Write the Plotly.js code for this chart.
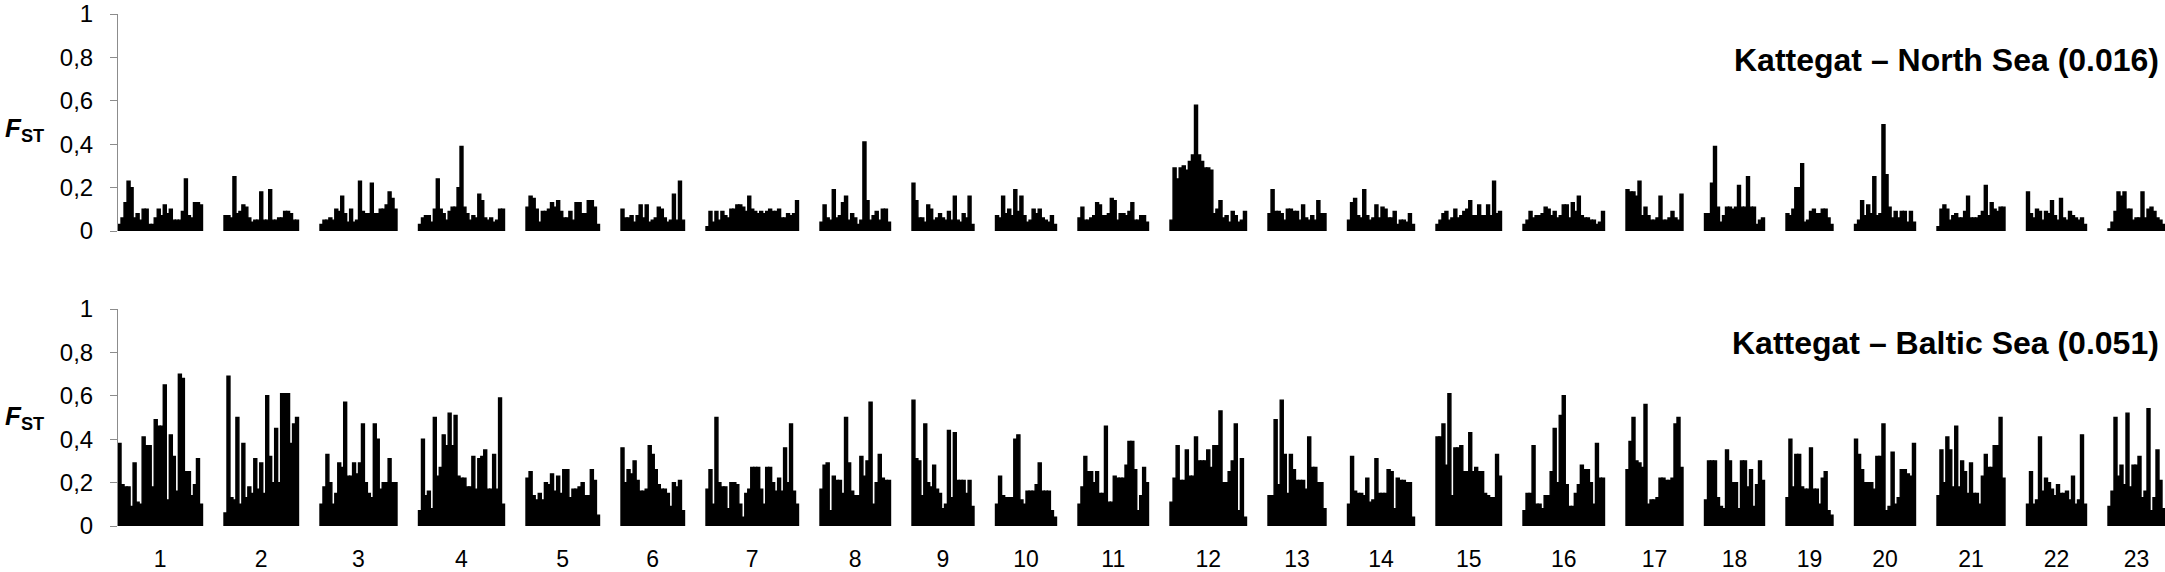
<!DOCTYPE html>
<html>
<head>
<meta charset="utf-8">
<script src="https://cdn.plot.ly/plotly-3.0.1.min.js"></script>
<style>
  html, body { margin: 0; padding: 0; background: #fff; }
  #chart { width: 2165px; height: 572px; }
</style>
</head>
<body>
<div id="chart"></div>
<script>
// Chromosome labels and relative lengths (arbitrary units)
const chrLabels = ["1","2","3","4","5","6","7","8","9","10","11","12","13","14","15","16","17","18","19","20","21","22","23"];
const chrLength = [84.5, 74.5, 77, 86, 73.5, 63.5, 92.5, 70.5, 62, 61, 70.5, 76.5, 58, 67, 65.5, 81.5, 57, 60, 47, 61, 68, 60, 57];

// Kattegat – North Sea FST per window, one array per chromosome
const ns1 = [0.03,0.06,0.13,0.23,0.2,0.06,0.08,0.05,0.1,0.1,0.03,0.03,0.06,0.1,0.07,0.12,0.08,0.1,0.05,0.05,0.05,0.09,0.24,0.07,0.06,0.13,0.13,0.12];
const ns2 = [0.07,0.07,0.06,0.25,0.08,0.09,0.12,0.11,0.06,0.04,0.05,0.05,0.18,0.05,0.05,0.19,0.05,0.05,0.06,0.06,0.09,0.09,0.08,0.05,0.05];
const ns3 = [0.03,0.05,0.05,0.06,0.05,0.1,0.09,0.16,0.08,0.04,0.1,0.04,0.05,0.23,0.09,0.08,0.08,0.22,0.08,0.08,0.1,0.1,0.12,0.18,0.15,0.1];
const ns4 = [0.03,0.06,0.07,0.07,0.04,0.1,0.24,0.1,0.08,0.05,0.09,0.11,0.11,0.2,0.39,0.11,0.08,0.05,0.07,0.06,0.17,0.14,0.06,0.05,0.06,0.04,0.05,0.1,0.1];
const ns5 = [0.11,0.16,0.15,0.1,0.04,0.09,0.09,0.1,0.13,0.11,0.14,0.09,0.06,0.06,0.09,0.05,0.13,0.13,0.08,0.08,0.14,0.14,0.11,0.03];
const ns6 = [0.1,0.06,0.06,0.07,0.04,0.07,0.12,0.06,0.12,0.04,0.05,0.06,0.11,0.1,0.06,0.04,0.05,0.17,0.05,0.23,0.05];
const ns7 = [0.02,0.09,0.04,0.09,0.05,0.09,0.07,0.06,0.1,0.1,0.12,0.12,0.11,0.09,0.16,0.1,0.09,0.08,0.09,0.08,0.09,0.1,0.09,0.09,0.1,0.06,0.06,0.08,0.07,0.08,0.14];
const ns8 = [0.04,0.12,0.06,0.05,0.19,0.06,0.07,0.13,0.16,0.05,0.08,0.06,0.03,0.05,0.41,0.14,0.05,0.07,0.09,0.05,0.1,0.1,0.04];
const ns9 = [0.22,0.14,0.06,0.06,0.04,0.12,0.1,0.05,0.06,0.08,0.06,0.05,0.09,0.05,0.16,0.05,0.04,0.08,0.06,0.16,0.03];
const ns10 = [0.07,0.06,0.16,0.08,0.1,0.07,0.19,0.09,0.16,0.07,0.04,0.05,0.1,0.08,0.1,0.06,0.05,0.04,0.07,0.03];
const ns11 = [0.06,0.11,0.05,0.05,0.06,0.07,0.13,0.12,0.07,0.07,0.08,0.15,0.14,0.05,0.08,0.08,0.07,0.09,0.13,0.05,0.05,0.07,0.07,0.04];
const ns12 = [0.05,0.29,0.24,0.29,0.3,0.28,0.32,0.35,0.58,0.35,0.32,0.29,0.29,0.28,0.08,0.1,0.14,0.06,0.07,0.04,0.09,0.07,0.04,0.05,0.09];
const ns13 = [0.08,0.19,0.09,0.09,0.08,0.05,0.1,0.1,0.09,0.09,0.05,0.12,0.06,0.05,0.07,0.05,0.14,0.08,0.08];
const ns14 = [0.05,0.13,0.15,0.07,0.06,0.19,0.07,0.05,0.06,0.12,0.06,0.11,0.1,0.06,0.06,0.09,0.03,0.05,0.05,0.04,0.08,0.03];
const ns15 = [0.03,0.05,0.08,0.09,0.05,0.06,0.1,0.06,0.07,0.09,0.1,0.14,0.07,0.07,0.12,0.07,0.07,0.12,0.07,0.23,0.08,0.09];
const ns16 = [0.03,0.05,0.09,0.06,0.07,0.07,0.08,0.11,0.1,0.07,0.09,0.06,0.07,0.12,0.12,0.06,0.13,0.09,0.16,0.07,0.06,0.06,0.05,0.05,0.03,0.04,0.09];
const ns17 = [0.19,0.18,0.18,0.16,0.23,0.07,0.11,0.07,0.05,0.05,0.06,0.16,0.05,0.05,0.06,0.09,0.06,0.05,0.17];
const ns18 = [0.08,0.08,0.22,0.39,0.11,0.04,0.07,0.11,0.11,0.1,0.11,0.21,0.11,0.11,0.25,0.11,0.11,0.03,0.05,0.06];
const ns19 = [0.08,0.07,0.1,0.2,0.2,0.31,0.04,0.05,0.09,0.1,0.08,0.08,0.1,0.1,0.06,0.03];
const ns20 = [0.03,0.05,0.14,0.07,0.12,0.08,0.25,0.07,0.08,0.49,0.26,0.11,0.06,0.09,0.06,0.09,0.09,0.04,0.09,0.04];
const ns21 = [0.02,0.1,0.12,0.1,0.05,0.07,0.08,0.06,0.06,0.09,0.16,0.06,0.06,0.06,0.07,0.09,0.21,0.07,0.13,0.1,0.09,0.11,0.11];
const ns22 = [0.18,0.08,0.06,0.1,0.09,0.05,0.09,0.08,0.14,0.07,0.05,0.15,0.06,0.05,0.09,0.07,0.06,0.05,0.06,0.03];
const ns23 = [0.01,0.04,0.09,0.18,0.16,0.18,0.1,0.1,0.05,0.06,0.06,0.18,0.06,0.1,0.11,0.09,0.06,0.05,0.03];

// Kattegat – Baltic Sea FST per window, one array per chromosome
const bs1 = [0.38,0.19,0.18,0.18,0.09,0.29,0.11,0.1,0.41,0.37,0.37,0.18,0.49,0.46,0.46,0.65,0.12,0.42,0.32,0.16,0.7,0.68,0.25,0.25,0.14,0.19,0.31,0.1];
const bs2 = [0.06,0.69,0.13,0.12,0.5,0.1,0.38,0.13,0.18,0.15,0.31,0.17,0.29,0.15,0.6,0.32,0.2,0.45,0.2,0.61,0.61,0.61,0.38,0.47,0.5];
const bs3 = [0.1,0.18,0.33,0.2,0.1,0.15,0.29,0.27,0.57,0.23,0.23,0.29,0.24,0.29,0.47,0.2,0.15,0.13,0.47,0.4,0.17,0.2,0.2,0.31,0.2,0.2];
const bs4 = [0.07,0.4,0.14,0.16,0.08,0.5,0.23,0.27,0.42,0.37,0.52,0.37,0.51,0.23,0.22,0.22,0.18,0.18,0.32,0.17,0.31,0.32,0.35,0.17,0.17,0.33,0.17,0.59,0.1];
const bs5 = [0.22,0.25,0.14,0.12,0.15,0.12,0.2,0.19,0.24,0.16,0.23,0.15,0.26,0.26,0.13,0.17,0.17,0.18,0.2,0.14,0.14,0.26,0.21,0.05];
const bs6 = [0.36,0.2,0.26,0.24,0.3,0.21,0.16,0.16,0.17,0.37,0.33,0.26,0.19,0.17,0.17,0.15,0.09,0.2,0.18,0.21,0.07];
const bs7 = [0.17,0.26,0.1,0.5,0.2,0.18,0.18,0.08,0.2,0.2,0.19,0.1,0.04,0.15,0.17,0.27,0.27,0.27,0.17,0.1,0.27,0.27,0.2,0.16,0.22,0.16,0.36,0.2,0.47,0.16,0.1];
const bs8 = [0.17,0.28,0.29,0.07,0.23,0.21,0.21,0.15,0.5,0.29,0.16,0.14,0.14,0.32,0.23,0.3,0.57,0.1,0.2,0.33,0.22,0.21,0.21];
const bs9 = [0.58,0.31,0.3,0.14,0.47,0.2,0.18,0.28,0.17,0.15,0.08,0.1,0.44,0.13,0.43,0.21,0.21,0.21,0.15,0.21,0.09];
const bs10 = [0.1,0.23,0.14,0.13,0.13,0.13,0.4,0.42,0.12,0.1,0.16,0.16,0.16,0.19,0.29,0.16,0.16,0.16,0.07,0.04];
const bs11 = [0.1,0.18,0.32,0.25,0.25,0.2,0.25,0.15,0.15,0.46,0.11,0.11,0.23,0.22,0.22,0.22,0.28,0.39,0.39,0.26,0.07,0.14,0.27,0.2];
const bs12 = [0.11,0.22,0.37,0.21,0.21,0.35,0.23,0.23,0.41,0.3,0.3,0.3,0.35,0.27,0.37,0.37,0.53,0.2,0.2,0.25,0.3,0.47,0.07,0.31,0.04];
const bs13 = [0.14,0.14,0.49,0.19,0.58,0.33,0.15,0.33,0.26,0.21,0.21,0.21,0.17,0.41,0.27,0.27,0.2,0.2,0.08];
const bs14 = [0.1,0.32,0.16,0.15,0.15,0.14,0.22,0.11,0.12,0.31,0.15,0.15,0.15,0.26,0.25,0.08,0.22,0.21,0.21,0.2,0.2,0.04];
const bs15 = [0.41,0.41,0.47,0.28,0.61,0.14,0.36,0.36,0.37,0.25,0.25,0.43,0.25,0.27,0.25,0.25,0.15,0.14,0.13,0.13,0.33,0.23];
const bs16 = [0.07,0.15,0.15,0.37,0.1,0.1,0.08,0.14,0.14,0.25,0.45,0.2,0.51,0.6,0.19,0.09,0.09,0.15,0.19,0.28,0.26,0.26,0.2,0.1,0.38,0.22,0.22];
const bs17 = [0.26,0.39,0.5,0.3,0.29,0.27,0.56,0.1,0.12,0.12,0.13,0.22,0.22,0.21,0.21,0.22,0.47,0.5,0.27];
const bs18 = [0.12,0.3,0.3,0.3,0.13,0.09,0.08,0.35,0.3,0.2,0.2,0.08,0.3,0.3,0.18,0.26,0.09,0.19,0.3,0.21];
const bs19 = [0.13,0.4,0.18,0.33,0.33,0.18,0.17,0.17,0.36,0.17,0.17,0.1,0.22,0.25,0.07,0.05];
const bs20 = [0.4,0.33,0.26,0.2,0.2,0.2,0.17,0.32,0.32,0.47,0.07,0.09,0.34,0.1,0.13,0.26,0.26,0.24,0.23,0.38];
const bs21 = [0.14,0.35,0.2,0.41,0.35,0.18,0.46,0.18,0.3,0.25,0.15,0.29,0.15,0.15,0.1,0.23,0.33,0.27,0.27,0.37,0.37,0.5,0.22];
const bs22 = [0.1,0.25,0.1,0.12,0.41,0.16,0.22,0.2,0.17,0.14,0.19,0.15,0.15,0.16,0.12,0.23,0.1,0.12,0.42,0.1];
const bs23 = [0.09,0.16,0.5,0.23,0.28,0.19,0.52,0.18,0.28,0.28,0.32,0.13,0.16,0.54,0.07,0.13,0.35,0.21,0.08];

const northSea = [ns1,ns2,ns3,ns4,ns5,ns6,ns7,ns8,ns9,ns10,ns11,ns12,ns13,ns14,ns15,ns16,ns17,ns18,ns19,ns20,ns21,ns22,ns23];
const baltic = [bs1,bs2,bs3,bs4,bs5,bs6,bs7,bs8,bs9,bs10,bs11,bs12,bs13,bs14,bs15,bs16,bs17,bs18,bs19,bs20,bs21,bs22,bs23];

const GAP = 21.5;
const chrStart = [];
const chrCenter = [];
(function () {
  let s = 0;
  for (let i = 0; i < chrLength.length; i++) {
    chrStart.push(s);
    chrCenter.push(s + chrLength[i] / 2);
    s += chrLength[i] + GAP;
  }
})();
const totalLen = chrStart[chrStart.length - 1] + chrLength[chrLength.length - 1];

function build(series) {
  const x = [], y = [], w = [];
  for (let i = 0; i < series.length; i++) {
    const vals = series[i];
    const step = chrLength[i] / vals.length;
    for (let j = 0; j < vals.length; j++) {
      x.push(chrStart[i] + (j + 0.5) * step);
      y.push(vals[j]);
      w.push(step);
    }
  }
  return { x, y, w };
}

const nsData = build(northSea);
const bsData = build(baltic);

const barStyle = { color: '#000000', line: { color: '#000000', width: 1.4 } };

const traces = [
  { type: 'bar', x: nsData.x, y: nsData.y, width: nsData.w, marker: barStyle, xaxis: 'x', yaxis: 'y', hoverinfo: 'skip' },
  { type: 'bar', x: bsData.x, y: bsData.y, width: bsData.w, marker: barStyle, xaxis: 'x', yaxis: 'y2', hoverinfo: 'skip' }
];

const H = 572;
const axisGray = '#8c8c8c';
const yCommon = {
  range: [0, 1], tick0: 0, dtick: 0.2, ticks: 'outside', ticklen: 7, tickcolor: axisGray, tickwidth: 1,
  showline: true, linecolor: axisGray, linewidth: 1, showgrid: false, zeroline: false,
  tickfont: { size: 24, color: '#000000' }, ticklabelstandoff: 12, ticklabeloverflow: 'allow', fixedrange: true
};

const FONT = 'Liberation Sans, Arial, sans-serif';
const plotW = 2165 - 118;

const layout = {
  width: 2165, height: H,
  margin: { l: 118, r: 0, t: 0, b: 0 },
  paper_bgcolor: '#ffffff', plot_bgcolor: '#ffffff',
  showlegend: false,
  separators: ', ',
  font: { family: FONT, color: '#000000' },
  bargap: 0,
  xaxis: {
    range: [0, totalLen], anchor: 'y2', showgrid: false, zeroline: false, showline: false,
    ticks: '', tickvals: chrCenter, ticktext: chrLabels, tickfont: { size: 23, color: '#000000' },
    ticklabelstandoff: 17, ticklabeloverflow: 'allow', fixedrange: true
  },
  yaxis: Object.assign({}, yCommon, { domain: [1 - 231 / H, 1 - 14 / H], anchor: 'x' }),
  yaxis2: Object.assign({}, yCommon, { domain: [1 - 526 / H, 1 - 309 / H], anchor: 'x' }),
  annotations: [
    { xref: 'paper', yref: 'y', x: (3 - 118) / plotW, y: 0.47, xanchor: 'left', yanchor: 'middle',
      text: '<b><i>F</i><sub>ST</sub></b>', showarrow: false, font: { size: 26, color: '#000000' } },
    { xref: 'paper', yref: 'y2', x: (3 - 118) / plotW, y: 0.5, xanchor: 'left', yanchor: 'middle',
      text: '<b><i>F</i><sub>ST</sub></b>', showarrow: false, font: { size: 26, color: '#000000' } },
    { xref: 'paper', yref: 'y', x: (2161 - 118) / plotW, y: 0.79, xanchor: 'right', yanchor: 'middle',
      text: '<b>Kattegat – North Sea (0.016)</b>', showarrow: false, font: { size: 32, color: '#000000' } },
    { xref: 'paper', yref: 'y2', x: (2161 - 118) / plotW, y: 0.842, xanchor: 'right', yanchor: 'middle',
      text: '<b>Kattegat – Baltic Sea (0.051)</b>', showarrow: false, font: { size: 32, color: '#000000' } }
  ]
};

Plotly.newPlot('chart', traces, layout, { staticPlot: true, displayModeBar: false });
</script>
</body>
</html>
